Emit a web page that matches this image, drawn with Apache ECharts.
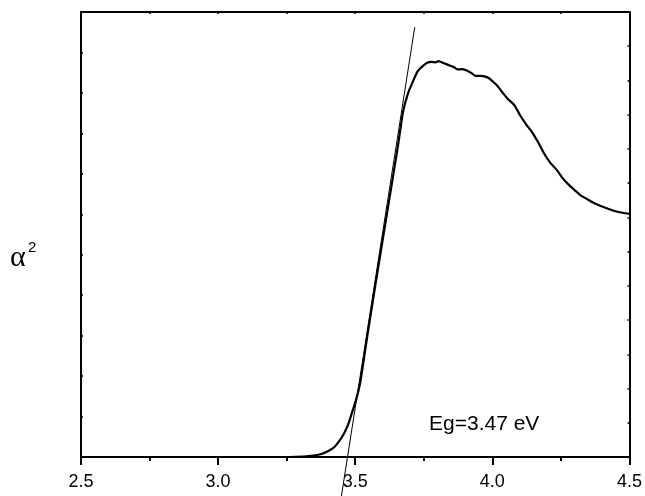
<!DOCTYPE html>
<html>
<head>
<meta charset="utf-8">
<script src="https://cdn.jsdelivr.net/npm/echarts@6/dist/echarts.min.js"></script>
<style>
  html, body { margin: 0; padding: 0; background: #fff; }
</style>
</head>
<body>
<div id="main" style="width: 645px;height:496px;"></div>
<script>
// photon energy (eV)
var energy = [2.5, 2.931, 3.257, 3.312, 3.348, 3.377, 3.402, 3.424, 3.442, 3.46, 3.475,
  3.489, 3.504, 3.518, 3.547, 3.583, 3.62, 3.656, 3.674, 3.692, 3.71, 3.728, 3.746,
  3.764, 3.779, 3.793, 3.804, 3.822, 3.841, 3.859, 3.873, 3.891, 3.909, 3.924, 3.938,
  3.957, 3.975, 3.989, 4.0, 4.018, 4.033, 4.054, 4.08, 4.101, 4.123, 4.145, 4.167,
  4.188, 4.21, 4.236, 4.257, 4.279, 4.301, 4.322, 4.344, 4.37, 4.395, 4.424, 4.453,
  4.475, 4.5];
// alpha^2 (arb. units)
var alpha2 = [0, 0, 0, 0.012, 0.037, 0.074, 0.149, 0.248, 0.396, 0.595, 0.818,
  1.115, 1.437, 1.833, 3.122, 4.658, 6.194, 7.705, 8.523, 8.981, 9.278, 9.538, 9.662,
  9.749, 9.769, 9.756, 9.786, 9.737, 9.687, 9.638, 9.58, 9.588, 9.546, 9.489, 9.422,
  9.422, 9.402, 9.357, 9.291, 9.179, 9.043, 8.869, 8.696, 8.448, 8.225, 8.027, 7.779,
  7.507, 7.284, 7.086, 6.887, 6.726, 6.59, 6.466, 6.38, 6.28, 6.206, 6.132, 6.07,
  6.037, 6.013];
// linear fit (tangent) end points
var fitX = [3.717, 3.449];
var fitY = [10.627, -0.991];
var xTicks = ['2.5', '3.0', '3.5', '4.0', '4.5'];

var chartDom = document.getElementById('main');
var myChart = echarts.init(chartDom);
var option;

var curve = energy.map(function (e, i) { return [e, alpha2[i]]; });
var fit = fitX.map(function (e, i) { return [e, fitY[i]]; });

option = {
  animation: false,
  grid: { left: 81, right: 10, top: 12, bottom: 39 },
  xAxis: [
    {
      type: 'value', min: 2.5, max: 4.5, interval: 0.5,
      axisLine: { onZero: false, lineStyle: { color: '#000', width: 2 } },
      axisTick: { show: true, inside: false, length: 8, lineStyle: { color: '#000', width: 2 } },
      minorTick: { show: true, splitNumber: 2, length: 4, lineStyle: { color: '#000', width: 2 } },
      splitLine: { show: false },
      axisLabel: {
        margin: 16, color: '#000', fontSize: 18, fontFamily: 'Liberation Sans',
        formatter: function (v) {
          var s = v.toFixed(1);
          return xTicks.indexOf(s) >= 0 ? s : '';
        }
      }
    },
    {
      type: 'value', position: 'top', min: 2.5, max: 4.5, interval: 0.25,
      axisLine: { onZero: false, lineStyle: { color: '#000', width: 2 } },
      axisTick: { show: true, inside: true, length: 2, lineStyle: { color: '#000', width: 1.5 } },
      splitLine: { show: false },
      axisLabel: { show: false }
    }
  ],
  yAxis: [
    {
      type: 'value', min: 0, max: 11, interval: 1,
      axisLine: { show: true, onZero: false, lineStyle: { color: '#000', width: 2 } },
      axisTick: { show: true, inside: true, length: 2, lineStyle: { color: '#000', width: 1.5 } },
      splitLine: { show: false },
      axisLabel: { show: false }
    },
    {
      type: 'value', position: 'right', min: 0, max: 13, interval: 1,
      axisLine: { show: true, onZero: false, lineStyle: { color: '#000', width: 2 } },
      axisTick: { show: true, inside: true, length: 2, lineStyle: { color: '#000', width: 1.5 } },
      splitLine: { show: false },
      axisLabel: { show: false }
    }
  ],
  graphic: [
    {
      type: 'text', left: 10, top: 243,
      style: { text: 'α', fontFamily: 'Liberation Serif', fontSize: 30, fill: '#000' }
    },
    {
      type: 'text', left: 28, top: 240,
      style: { text: '2', fontFamily: 'Liberation Sans', fontSize: 15, fill: '#000' }
    },
    {
      type: 'text', left: 429, top: 414,
      style: { text: 'Eg=3.47 eV', fontFamily: 'Liberation Sans', fontSize: 21, fill: '#000' }
    }
  ],
  series: [
    {
      type: 'line', data: curve, showSymbol: false, smooth: 0.2,
      lineStyle: { color: '#000', width: 2.2 }
    },
    {
      type: 'line', data: fit, showSymbol: false, clip: false,
      lineStyle: { color: '#000', width: 1 }
    }
  ]
};

option && myChart.setOption(option);
</script>
</body>
</html>
